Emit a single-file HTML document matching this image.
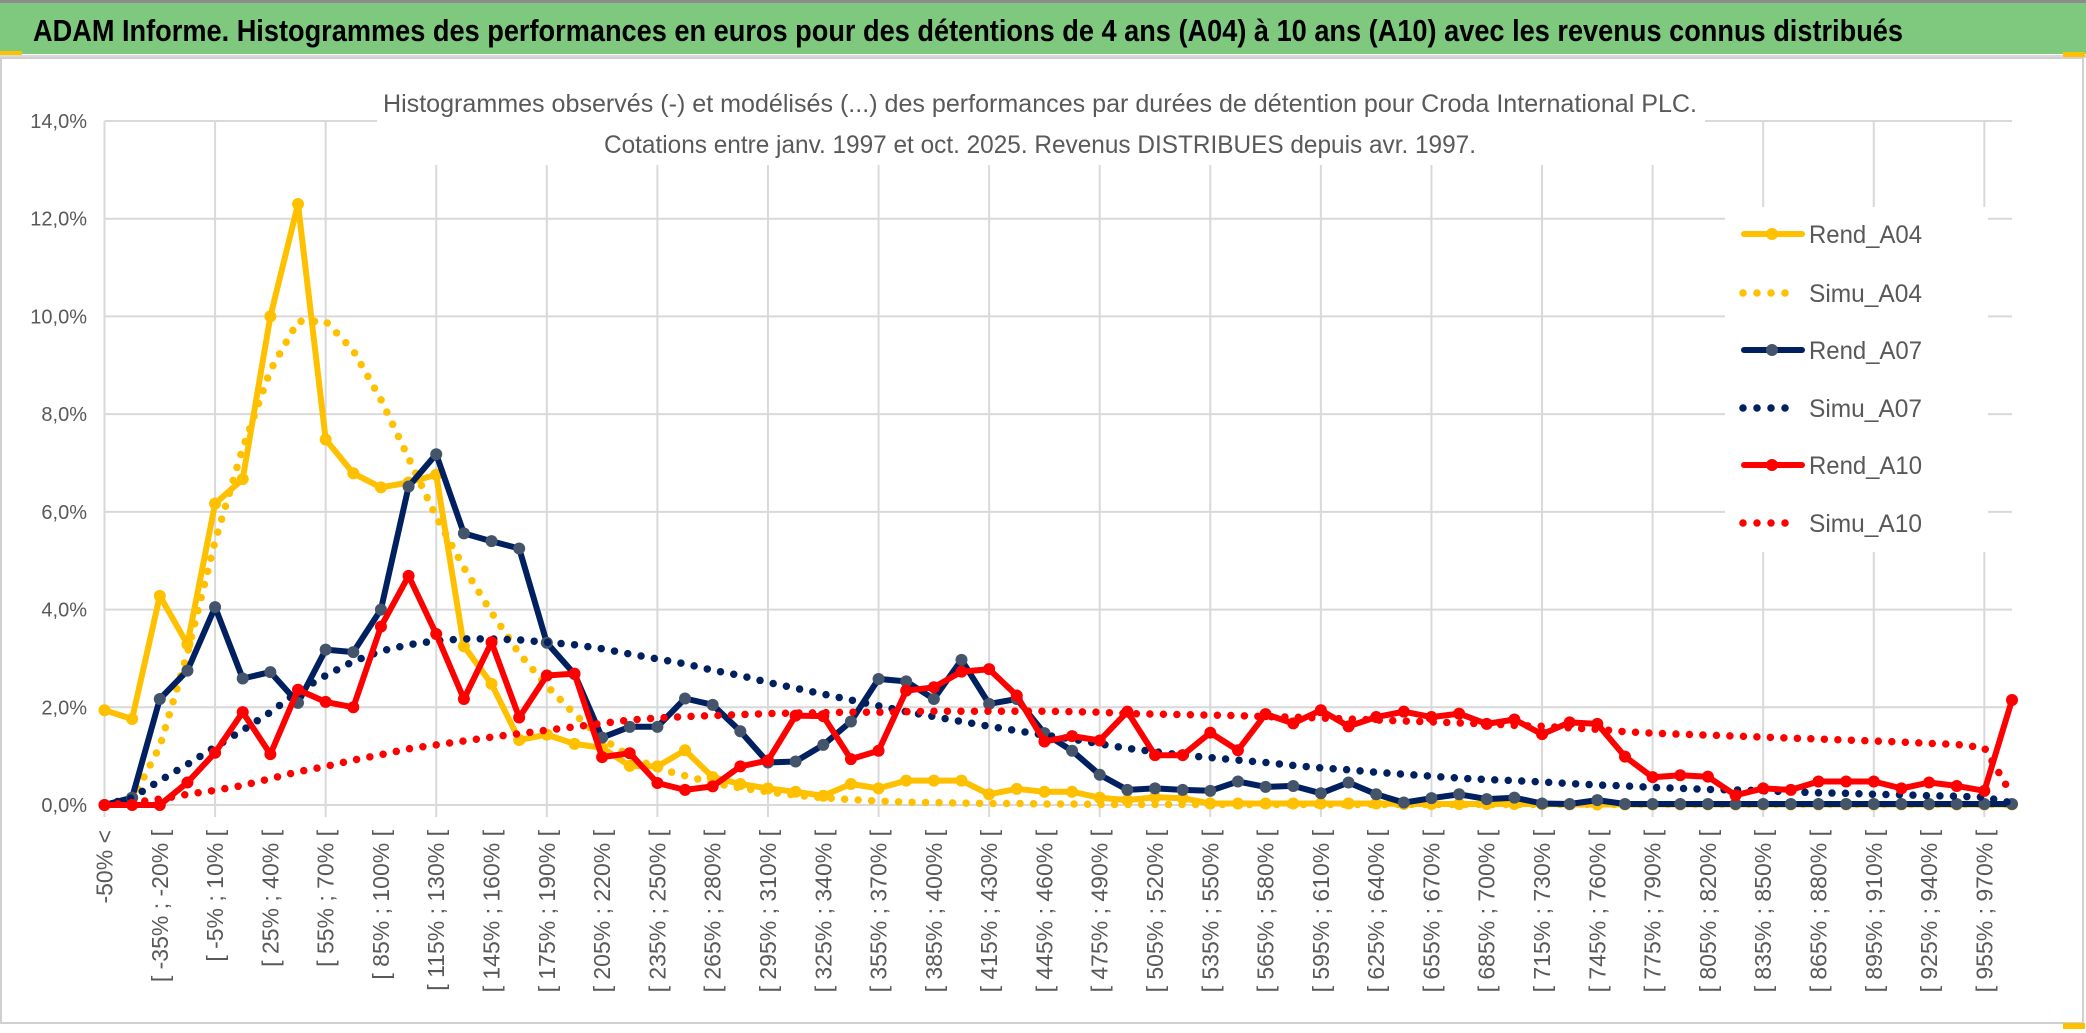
<!DOCTYPE html>
<html><head><meta charset="utf-8"><style>
html,body{margin:0;padding:0;background:#fff;}
svg{display:block;}
text{font-family:"Liberation Sans",sans-serif;}
</style></head><body>
<svg id="chart" width="2086" height="1033" viewBox="0 0 2086 1033" xmlns="http://www.w3.org/2000/svg">
<rect x="0" y="0" width="2086" height="1033" fill="#fff"/>
<rect x="0" y="0" width="2086" height="3" fill="#8c8c8c"/>
<rect x="0" y="3" width="2086" height="51" fill="#7fc97f"/>
<text x="33" y="41" font-size="31" font-weight="bold" fill="#000" textLength="1870" lengthAdjust="spacingAndGlyphs">ADAM Informe. Histogrammes des performances en euros pour des détentions de 4 ans (A04) à 10 ans (A10) avec les revenus connus distribués</text>
<rect x="0" y="51" width="22" height="4" fill="#ffc000"/>
<rect x="0" y="55" width="2086" height="3" fill="#d9d9d9"/>
<rect x="2063" y="52" width="22" height="5" fill="#ffc000"/>
<rect x="1" y="58" width="2082" height="965" fill="none" stroke="#d0d0d0" stroke-width="2"/>
<rect x="2063" y="1023" width="22" height="6" fill="#ffc000"/>
<g id="grid"></g>
<rect x="377" y="60" width="1328" height="105" fill="#fff"/>
<text x="1040" y="112" font-size="25" fill="#595959" text-anchor="middle" textLength="1314" lengthAdjust="spacingAndGlyphs">Histogrammes observés (-) et modélisés (...) des performances par durées de détention pour Croda International PLC.</text>
<text x="1040" y="153" font-size="25" fill="#595959" text-anchor="middle" textLength="872" lengthAdjust="spacingAndGlyphs">Cotations entre janv. 1997 et oct. 2025. Revenus DISTRIBUES depuis avr. 1997.</text>
<g id="yaxis"></g>
<g id="xaxis"></g>
<g id="series"></g>
<g id="legend"></g>
</svg>
<script>
const yTicks = [0, 2, 4, 6, 8, 10, 12, 14];
const yTickLabels = ["0,0%", "2,0%", "4,0%", "6,0%", "8,0%", "10,0%", "12,0%", "14,0%"];
const categories = (function(){ const c = ["-50% <"]; for (let k = 1; k < 70; k++) { const a = -50 + 15*(k-1); c.push("[ " + a + "% ; " + (a+15) + "% ["); } return c; })();
const rendA04 = [1.94,1.76,4.28,3.29,6.17,6.67,10.0,12.3,7.48,6.79,6.5,6.6,6.76,3.25,2.48,1.33,1.44,1.25,1.17,0.8,0.79,1.12,0.57,0.43,0.34,0.27,0.19,0.43,0.34,0.5,0.5,0.5,0.22,0.33,0.27,0.27,0.15,0.1,0.16,0.14,0.03,0.03,0.03,0.03,0.03,0.03,0.03,0.02,0.02,0.02,0.02,0.02,0.02,0.01,0.01,0.01,0.01,0.01,0.01,0.01,0.01,0.01,0.01,0.01,0.01,0.01,0.01,0.01,0.01,0.01];
const simuA04 = [0.0,0.1,1.2,3.1,5.4,7.3,8.9,9.9,9.9,9.3,8.3,7.1,5.9,4.86,3.94,3.1,2.44,1.86,1.36,1.0,0.75,0.6,0.45,0.35,0.27,0.2,0.15,0.11,0.08,0.06,0.05,0.04,0.03,0.03,0.02,0.02,0.01,0.01,0.01,0.01,0.01,0.01,0.01,0.01,0.01,0.01,0.01,0.01,0.01,0.01,0.01,0.01,0.01,0.01,0.01,0.01,0.01,0.01,0.01,0.01,0.01,0.01,0.01,0.01,0.01,0.01,0.01,0.01,0.01,0.01];
const rendA07 = [0,0.15,2.17,2.75,4.05,2.59,2.72,2.09,3.18,3.13,4.0,6.52,7.18,5.56,5.4,5.25,3.32,2.68,1.38,1.6,1.6,2.18,2.05,1.51,0.87,0.89,1.23,1.71,2.58,2.53,2.17,2.97,2.07,2.17,1.47,1.11,0.62,0.31,0.34,0.31,0.29,0.48,0.37,0.39,0.24,0.46,0.22,0.05,0.14,0.22,0.12,0.15,0.03,0.02,0.1,0.02,0.02,0.02,0.02,0.02,0.02,0.02,0.02,0.02,0.02,0.02,0.02,0.02,0.02,0.02];
const simuA07 = [0,0.15,0.5,0.83,1.19,1.53,1.9,2.32,2.65,2.94,3.15,3.28,3.36,3.4,3.4,3.38,3.33,3.28,3.2,3.09,2.99,2.89,2.76,2.65,2.51,2.39,2.27,2.15,2.03,1.91,1.81,1.71,1.61,1.52,1.43,1.35,1.25,1.16,1.09,1.02,0.97,0.92,0.87,0.81,0.76,0.72,0.67,0.63,0.59,0.55,0.52,0.5,0.47,0.44,0.41,0.39,0.36,0.34,0.32,0.31,0.29,0.27,0.25,0.24,0.22,0.21,0.19,0.18,0.16,0.04];
const rendA10 = [0,0,0,0.46,1.07,1.9,1.04,2.36,2.11,2.0,3.65,4.69,3.5,2.17,3.33,1.79,2.65,2.69,0.98,1.06,0.45,0.31,0.38,0.79,0.91,1.83,1.82,0.94,1.11,2.34,2.41,2.73,2.78,2.24,1.3,1.41,1.32,1.91,1.02,1.02,1.48,1.12,1.86,1.67,1.94,1.61,1.8,1.91,1.8,1.87,1.66,1.75,1.45,1.69,1.66,0.99,0.57,0.61,0.58,0.2,0.34,0.31,0.48,0.48,0.48,0.34,0.46,0.39,0.29,2.15];
const simuA10 = [0.0,0.05,0.12,0.22,0.3,0.4,0.54,0.68,0.79,0.92,1.03,1.15,1.23,1.31,1.39,1.46,1.53,1.6,1.67,1.74,1.78,1.81,1.83,1.85,1.87,1.88,1.89,1.9,1.9,1.91,1.92,1.92,1.92,1.92,1.92,1.91,1.9,1.87,1.86,1.85,1.84,1.83,1.81,1.8,1.78,1.76,1.74,1.72,1.7,1.68,1.66,1.63,1.61,1.58,1.55,1.5,1.47,1.45,1.43,1.41,1.39,1.37,1.35,1.33,1.31,1.29,1.26,1.24,1.17,0.2];
const seriesNames = ["Rend_A04","Simu_A04","Rend_A07","Simu_A07","Rend_A10","Simu_A10"];

const NS = "http://www.w3.org/2000/svg";
const X0 = 104.5, X1 = 2012, Y0 = 805, Y14 = 121;
function xPos(i){ return X0 + (X1 - X0) * i / (categories.length - 1); }
function yPos(v){ return Y0 - (Y0 - Y14) * v / 14; }
function mk(tag, attrs, parent){ const e = document.createElementNS(NS, tag); for (const k in attrs) e.setAttribute(k, attrs[k]); parent.appendChild(e); return e; }

const grid = document.getElementById('grid');
yTicks.forEach(function(t){
  const l = mk('line', {x1: X0, x2: X1, y1: yPos(t), y2: yPos(t), stroke: '#d9d9d9', 'stroke-width': 2}, grid);
  
  
});
for (let i = 0; i < categories.length; i += 4) {
  const l = mk('line', {x1: xPos(i), x2: xPos(i), y1: Y14, y2: Y0 + 12, stroke: '#d9d9d9', 'stroke-width': 2}, grid);
  
  
}

const yaxis = document.getElementById('yaxis');
yTicks.forEach(function(t, i){
  const tx = mk('text', {x: 87, y: yPos(t) + 7, 'font-size': 20, fill: '#595959', 'text-anchor': 'end'}, yaxis);
  tx.textContent = yTickLabels[i];
  
  
});

const xaxis = document.getElementById('xaxis');
categories.forEach(function(c, i){
  if (i % 2 !== 0) return;
  const x = xPos(i) + 8, y = 830;
  const tx = mk('text', {x: x, y: y, 'font-size': 23, fill: '#595959', 'text-anchor': 'end', transform: 'rotate(-90 ' + x + ' ' + y + ')'}, xaxis);
  tx.textContent = c;
  
  
});

const sg = document.getElementById('series');
function pts(arr){ return arr.map(function(v, i){ return xPos(i).toFixed(1) + ',' + yPos(v).toFixed(1); }).join(' '); }
function solid(arr, color, mcolor, name){
  const g = mk('g', {}, sg);
  
  
  const pl = mk('polyline', {points: pts(arr), fill: 'none', stroke: color, 'stroke-width': 6, 'stroke-linejoin': 'round', 'stroke-linecap': 'round'}, g);
  
  
  arr.forEach(function(v, i){
    const c = mk('circle', {cx: xPos(i), cy: yPos(v), r: 6, fill: mcolor}, g);
    
    
  });
}
function dotted(arr, color, name){
  const pl = mk('polyline', {points: pts(arr), fill: 'none', stroke: color, 'stroke-width': 7.5, 'stroke-dasharray': '0 13.5', 'stroke-linecap': 'round', 'stroke-linejoin': 'round'}, sg);
  
  
}
solid(rendA04, '#ffc000', '#ffc000', 'rend-a04');
dotted(simuA04, '#ffc000', 'simu-a04');
solid(rendA07, '#002060', '#44546a', 'rend-a07');
dotted(simuA07, '#002060', 'simu-a07');
solid(rendA10, '#ff0000', '#ff0000', 'rend-a10');
dotted(simuA10, '#ff0000', 'simu-a10');

const lg = document.getElementById('legend');
const bg = mk('rect', {x: 1725, y: 207, width: 263, height: 345, fill: '#fff'}, lg);


const legColors = ['#ffc000','#ffc000','#002060','#002060','#ff0000','#ff0000'];
const legMarker = ['#ffc000',null,'#44546a',null,'#ff0000',null];
const legRows = [234, 293, 350, 408, 465, 523];
seriesNames.forEach(function(n, i){
  const y = legRows[i];
  const g = mk('g', {}, lg);
  
  
  if (legMarker[i]) {
    mk('line', {x1: 1744, x2: 1802, y1: y, y2: y, stroke: legColors[i], 'stroke-width': 6, 'stroke-linecap': 'round'}, g);
    mk('circle', {cx: 1772, cy: y, r: 6, fill: legMarker[i]}, g);
  } else {
    mk('line', {x1: 1743, x2: i === 5 ? 1799 : 1789, y1: y, y2: y, stroke: legColors[i], 'stroke-width': 7.5, 'stroke-dasharray': '0 14', 'stroke-linecap': 'round'}, g);
  }
  const t = mk('text', {x: 1809, y: y + 9, 'font-size': 25, fill: '#595959', textLength: 113, lengthAdjust: 'spacingAndGlyphs'}, g);
  t.textContent = n;
  
  
});
</script>
</body></html>
